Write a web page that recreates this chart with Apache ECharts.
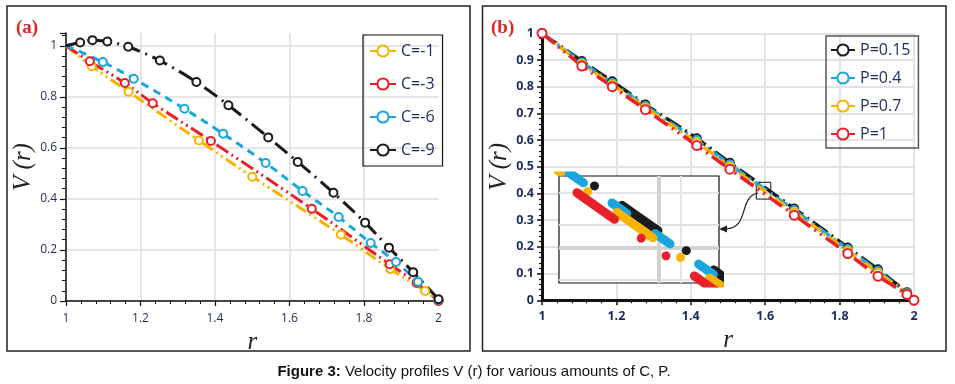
<!DOCTYPE html>
<html><head><meta charset="utf-8">
<script src="https://cdn.jsdelivr.net/npm/echarts@6/dist/echarts.min.js"></script>
<style>html,body{margin:0;padding:0;background:#fff}#c{width:955px;height:384px}</style>
</head><body><div id="c"></div>
<script>
// ---- Panel (a): V(r) for C values ----
const namesA = ['C=-1', 'C=-3', 'C=-6', 'C=-9'];
const rC1 = [1, 1.069, 1.168, 1.357, 1.500, 1.738, 1.871, 1.964, 2.0];
const vC1 = [1, 0.920, 0.820, 0.629, 0.487, 0.260, 0.125, 0.039, 0.0];
const rC3 = [1, 1.064, 1.158, 1.233, 1.389, 1.660, 1.869, 1.941, 2.0];
const vC3 = [1, 0.939, 0.854, 0.775, 0.627, 0.361, 0.144, 0.071, 0.0];
const rC6 = [1, 1.099, 1.182, 1.318, 1.422, 1.536, 1.635, 1.732, 1.818, 1.886, 1.945, 2.0];
const vC6 = [1, 0.936, 0.871, 0.753, 0.655, 0.541, 0.431, 0.329, 0.227, 0.153, 0.075, 0.004];
const rC9 = [1, 1.038, 1.071, 1.111, 1.167, 1.252, 1.350, 1.436, 1.543, 1.622, 1.718, 1.803, 1.867, 1.932, 2.0];
const vC9 = [1, 1.013, 1.022, 1.017, 0.996, 0.942, 0.858, 0.767, 0.641, 0.545, 0.424, 0.307, 0.209, 0.113, 0.007];

// ---- Panel (b): V(r) for P values ----
const namesB = ['P=0.15', 'P=0.4', 'P=0.7', 'P=1'];
const rP = [1, 1.107, 1.189, 1.278, 1.416, 1.505, 1.678, 1.822, 1.903, 1.981, 2.0];
const vP015 = [1, 0.896, 0.820, 0.733, 0.607, 0.515, 0.344, 0.198, 0.116, 0.030, 0];
const vP04  = [1, 0.891, 0.814, 0.728, 0.600, 0.509, 0.338, 0.192, 0.110, 0.027, 0];
const vP07  = [1, 0.886, 0.808, 0.722, 0.592, 0.502, 0.330, 0.186, 0.103, 0.025, 0];
const vP1   = [1, 0.8775, 0.800, 0.714, 0.580, 0.491, 0.319, 0.175, 0.090, 0.022, 0];

// zoom box (data coords) and inset view range
const zoomBox = [[1.576, 0.442], [1.615, 0.379]];
const insetX = [1.51, 1.654];
const insetY = [0.356, 0.491];

const caption = ['Figure 3:', ' Velocity profiles V (r) for various amounts of C, P.'];

const YEL = '#f6b400', RED = '#e8202a', BLU = '#19a6df', BLK = '#1b1b1b';
const LBL = '#1f2a5a';
const zip = (xs, ys) => xs.map((x, i) => [x, ys[i]]);
const noFirst = (xs, ys) => xs.map((x, i) => i === 0 ? {value: [x, ys[i]], symbol: 'none'} : [x, ys[i]]);

const chart = echarts.init(document.getElementById('c'), null, {renderer: 'canvas'});

function serA(name, xs, ys, color, dash) {
  return {
    name, type: 'line', xAxisIndex: 0, yAxisIndex: 0,
    data: noFirst(xs, ys), smooth: 0.35,
    symbol: 'emptyCircle', symbolSize: 8,
    itemStyle: {color, borderWidth: 2.6},
    lineStyle: {color, width: 3, type: dash},
    z: 3
  };
}
function serB(name, ys, color, dash, size) {
  return {
    name, type: 'line', xAxisIndex: 1, yAxisIndex: 1,
    data: zip(rP, ys),
    symbol: 'emptyCircle', symbolSize: size,
    itemStyle: {color, borderWidth: 2},
    lineStyle: {color, width: 3.5, type: dash},
    z: 3
  };
}
// inset: thick dashed magnification; dash phase aligned after layout
const insetDefs = [
  {id: 'insK', ys: vP015, color: BLK, dash: [44, 34.7, 0.01, 33.6], startPx: 622},
  {id: 'insB', ys: vP04,  color: BLU, dash: [18, 35], startPx: 612},
  {id: 'insY', ys: vP07,  color: YEL, dash: [44, 33.8, 0.01, 35.9], startPx: 617},
  {id: 'insR', ys: vP1,   color: RED, dash: [46, 32.7, 0.01, 30.4, 0.01, 34.8], startPx: 577}
];
function serInset(d) {
  return {
    id: d.id, type: 'line', xAxisIndex: 2, yAxisIndex: 2,
    data: zip(rP, d.ys), symbol: 'none', silent: true,
    lineStyle: {color: d.color, width: 9, cap: 'round', type: d.dash, dashOffset: 0},
    z: 8
  };
}

const axisLabelA = {color: LBL, fontFamily: 'Open Sans', fontSize: 12};
const axisLabelB = {color: LBL, fontFamily: 'Open Sans', fontSize: 12.5, fontWeight: 'bold'};
const nameStyle = {fontFamily: 'Liberation Serif', fontStyle: 'italic', fontSize: 25, color: '#222'};

const option = {
  animation: false,
  backgroundColor: '#fff',
  grid: [
    {left: 66, top: 33, width: 372.5, height: 268},
    {left: 542, top: 33.3, width: 372, height: 267},
    {left: 559, top: 176, width: 160, height: 107, show: true, backgroundColor: '#fff',
     borderColor: '#111', borderWidth: 1.2, z: 5}
  ],
  xAxis: [
    {gridIndex: 0, type: 'value', min: 1, max: 2, interval: 0.2,
     name: 'r', nameLocation: 'middle', nameGap: 17, nameTextStyle: nameStyle,
     axisLine: {lineStyle: {color: '#111', width: 1.5}},
     axisTick: {length: 5, lineStyle: {color: '#111', width: 1.2}},
     minorTick: {show: true, splitNumber: 5, length: 3, lineStyle: {color: '#111', width: 1}},
     axisLabel: Object.assign({margin: 12}, axisLabelA),
     splitLine: {show: true, showMaxLine: false, lineStyle: {color: '#dcdcdc', width: 1.5}}},
    {gridIndex: 1, type: 'value', min: 1, max: 2, interval: 0.2,
     name: 'r', nameLocation: 'middle', nameGap: 17, nameTextStyle: nameStyle,
     axisLine: {lineStyle: {color: '#111', width: 3}},
     axisTick: {length: 5, lineStyle: {color: '#111', width: 1.5}},
     minorTick: {show: true, splitNumber: 5, length: 3, lineStyle: {color: '#111', width: 1.2}},
     axisLabel: Object.assign({margin: 10}, axisLabelB),
     splitLine: {show: true, lineStyle: {color: '#e2e2e2', width: 2}}},
    {gridIndex: 2, type: 'value', min: insetX[0], max: insetX[1], show: false}
  ],
  yAxis: [
    {gridIndex: 0, type: 'value', min: 0, max: 1.05, interval: 0.2,
     name: 'V (r)', nameLocation: 'middle', nameGap: 26, nameTextStyle: nameStyle,
     axisLine: {show: true, lineStyle: {color: '#111', width: 1.5}},
     axisTick: {show: true, length: 6, lineStyle: {color: '#111', width: 1.2}},
     minorTick: {show: true, splitNumber: 5, length: 4, lineStyle: {color: '#111', width: 1}},
     axisLabel: Object.assign({margin: 9, showMaxLabel: false}, axisLabelA),
     splitLine: {show: true, showMaxLine: false, lineStyle: {color: '#dcdcdc', width: 1.5}}},
    {gridIndex: 1, type: 'value', min: 0, max: 1, interval: 0.1,
     name: 'V (r)', nameLocation: 'middle', nameGap: 29, nameTextStyle: nameStyle,
     axisLine: {show: true, lineStyle: {color: '#111', width: 3}},
     axisTick: {show: true, length: 5, lineStyle: {color: '#111', width: 1.5}},
     minorTick: {show: true, splitNumber: 5, length: 3, lineStyle: {color: '#111', width: 1.2}},
     axisLabel: Object.assign({margin: 8}, axisLabelB),
     splitLine: {show: true, lineStyle: {color: '#e2e2e2', width: 2}}},
    {gridIndex: 2, type: 'value', min: insetY[0], max: insetY[1], show: false}
  ],
  legend: [
    {data: namesA, orient: 'vertical', left: 363, top: 35,
     borderColor: '#111', borderWidth: 1.2, padding: [8, 8, 8, 6],
     itemGap: 17, itemWidth: 26, itemHeight: 14,
     lineStyle: {type: 'solid'},
     textStyle: {fontFamily: 'Open Sans', fontSize: 16, color: LBL}},
    {data: namesB, orient: 'vertical', left: 826, top: 36,
     borderColor: '#555', borderWidth: 1.5, padding: [6, 8, 6, 4],
     itemGap: 12, itemWidth: 24, itemHeight: 14,
     lineStyle: {type: 'solid'},
     textStyle: {fontFamily: 'Open Sans', fontSize: 16, color: LBL}}
  ],
  series: [
    serA(namesA[0], rC1, vC1, YEL, [12, 4, 2, 4, 2, 4]),
    serA(namesA[1], rC3, vC3, RED, [14, 4, 2, 4, 2, 4]),
    serA(namesA[2], rC6, vC6, BLU, [8, 6]),
    serA(namesA[3], rC9, vC9, BLK, [16, 6, 2, 6]),
    Object.assign(serB(namesB[0], vP015, BLK, [18, 5, 2, 5], 8), {
      markArea: {silent: true, itemStyle: {color: 'rgba(0,0,0,0)', borderColor: '#111', borderWidth: 1},
                 data: [[{coord: zoomBox[0]}, {coord: zoomBox[1]}]]}
    }),
    serB(namesB[1], vP04, BLU, [14, 5, 2, 5], 8),
    serB(namesB[2], vP07, YEL, [12, 4, 2, 4], 8),
    serB(namesB[3], vP1, RED, [16, 5, 2, 5, 2, 5], 9),
    {type: 'line', xAxisIndex: 2, yAxisIndex: 2, data: [], silent: true, z: 6,
     markLine: {silent: true, symbol: 'none', label: {show: false},
       data: [
         {xAxis: 1.618, lineStyle: {color: '#e4e4e4', width: 2, type: 'solid'}},
         {yAxis: 0.470, lineStyle: {color: '#e4e4e4', width: 2, type: 'solid'}},
         {yAxis: 0.435, lineStyle: {color: '#e0e0e0', width: 2, type: 'solid'}},
         {yAxis: 0.3614, lineStyle: {color: '#e4e4e4', width: 2, type: 'solid'}},
         {xAxis: 1.6, lineStyle: {color: '#d2d2d2', width: 4, type: 'solid'}},
         {yAxis: 0.4, lineStyle: {color: '#d2d2d2', width: 4, type: 'solid'}}
       ]}}
  ].concat(insetDefs.map(serInset)),
  graphic: [
    {type: 'rect', shape: {x: 7, y: 6, width: 463, height: 345}, style: {fill: 'none', stroke: '#222', lineWidth: 1.5}, silent: true},
    {type: 'rect', shape: {x: 482.5, y: 6, width: 463.5, height: 345}, style: {fill: 'none', stroke: '#222', lineWidth: 1.5}, silent: true},
    {type: 'text', x: 16, y: 28, style: {text: '(a)', fill: '#e0262d', font: 'bold 19px "Liberation Serif"', textVerticalAlign: 'middle'}, silent: true},
    {type: 'text', x: 491, y: 28, style: {text: '(b)', fill: '#e0262d', font: 'bold 19px "Liberation Serif"', textVerticalAlign: 'middle'}, silent: true},
    {type: 'bezierCurve', shape: {x1: 758, y1: 193, cpx1: 738, cpy1: 197, cpx2: 750, cpy2: 228, x2: 726, y2: 229},
     style: {fill: 'none', stroke: '#222', lineWidth: 1.2}, silent: true, z: 20},
    {type: 'polygon', shape: {points: [[719, 229], [727, 225.5], [727, 232.5]]}, style: {fill: '#222'}, silent: true, z: 20},
    {type: 'text', x: 474, y: 372, style: {
      text: '{b|' + caption[0] + '}{n|' + caption[1] + '}',
      rich: {b: {font: 'bold 15px "Liberation Sans"', fill: '#111'}, n: {font: '15px "Liberation Sans"', fill: '#111'}},
      textAlign: 'center', textVerticalAlign: 'middle'}, silent: true}
  ]
};
chart.setOption(option);

// align dash phase of the inset lines so that a dash begins at the chosen pixel x
function phaseFor(ys, targetPx, pattern) {
  const period = pattern.reduce((a, b) => a + b, 0);
  const pts = rP.map((x, i) => chart.convertToPixel({gridIndex: 2}, [x, ys[i]]));
  let L = 0;
  for (let i = 1; i < pts.length; i++) {
    const [x0, y0] = pts[i - 1], [x1, y1] = pts[i];
    const seg = Math.hypot(x1 - x0, y1 - y0);
    if (x1 >= targetPx) { L += seg * (targetPx - x0) / (x1 - x0); break; }
    L += seg;
  }
  return period - (L % period);
}
chart.setOption({series: insetDefs.map(d => ({id: d.id, lineStyle: {dashOffset: phaseFor(d.ys, d.startPx, d.dash)}}))});
</script>
</body></html>
